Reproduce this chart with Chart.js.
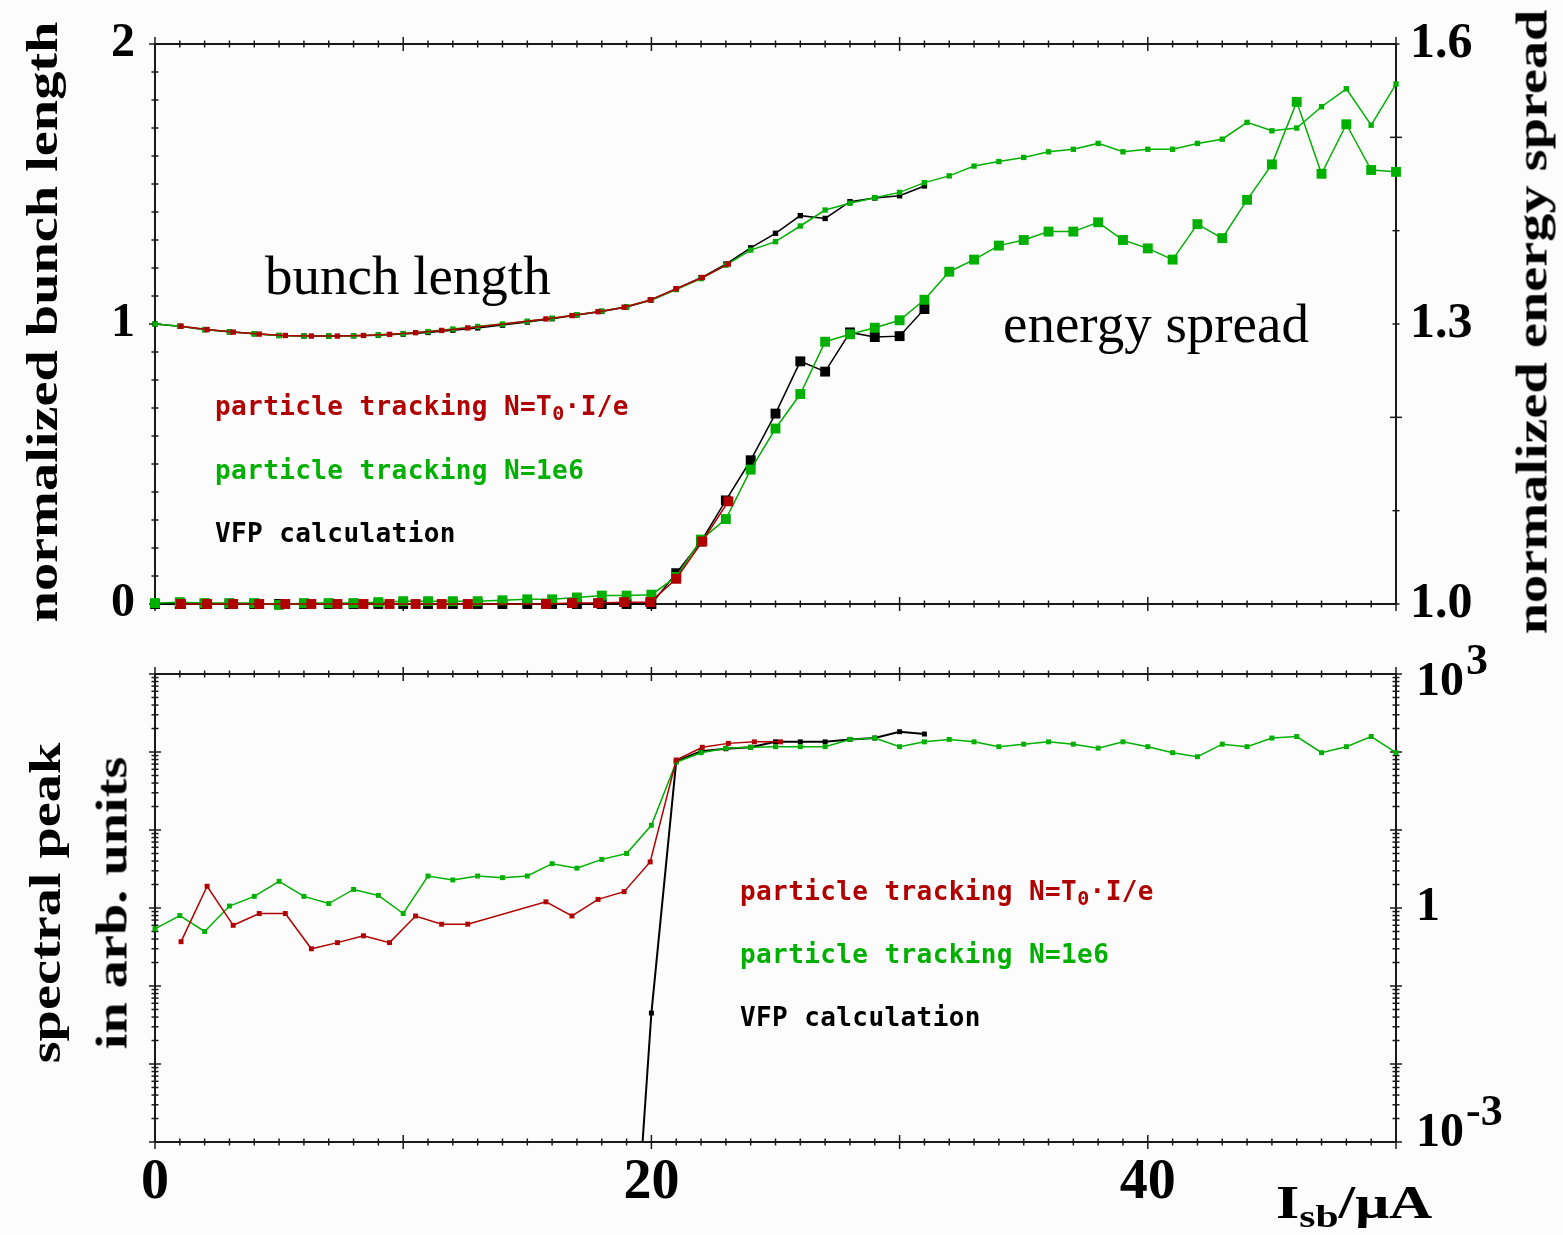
<!DOCTYPE html>
<html>
<head>
<meta charset="utf-8">
<script src="https://cdn.jsdelivr.net/npm/chart.js@4.4.1/dist/chart.umd.min.js"></script>
<style>
  body { margin: 0; background: #fcfcfc; width: 1563px; height: 1235px; position: relative; overflow: hidden; }
  canvas { position: absolute; left: 0; }
  #top { top: 0; }
  #bottom { top: 640px; }
  .t { position: absolute; white-space: nowrap; line-height: 1; color: #000; }
  .axis { font: bold 44px "Liberation Serif", "Times New Roman", serif; transform: translate(-50%, -50%) rotate(-90deg) scaleX(1.28); }
  .note { font: 55px "Liberation Serif", "Times New Roman", serif; }
  .key { font: bold 26px "DejaVu Sans Mono", monospace; letter-spacing: 0.4px; }
  .key sub { font-size: 20px; vertical-align: -5px; line-height: 1; }
  .unit { font: bold 46px "Liberation Serif", serif; transform: scaleX(1.3); transform-origin: left top; }
  .unit sub { font-size: 32px; vertical-align: -9px; line-height: 1; }
</style>
</head>
<body>
<canvas id="top" width="1563" height="640"></canvas>
<canvas id="bottom" width="1563" height="595"></canvas>

<div class="t axis" style="left:42px; top:322px">normalized bunch length</div>
<div class="t axis" style="left:1532px; top:322px">normalized energy spread</div>
<div class="t axis" style="left:45px; top:903px">spectral peak</div>
<div class="t axis" style="left:112px; top:903px">in arb. units</div>

<div class="t note" style="left:265px; top:244px">bunch length</div>
<div class="t note" style="left:1003px; top:292px">energy spread</div>

<div class="t key" style="left:215px; top:391px; color:#b00000">particle tracking N=T<sub>0</sub>·I/e</div>
<div class="t key" style="left:215px; top:455px; color:#00b000">particle tracking N=1e6</div>
<div class="t key" style="left:215px; top:518px; color:#000">VFP calculation</div>

<div class="t key" style="left:740px; top:876px; color:#b00000">particle tracking N=T<sub>0</sub>·I/e</div>
<div class="t key" style="left:740px; top:939px; color:#00b000">particle tracking N=1e6</div>
<div class="t key" style="left:740px; top:1002px; color:#000">VFP calculation</div>

<div class="t unit" style="left:1276px; top:1176px">I<sub>sb</sub>/μA</div>

<script>
const red = '#b00000';
const green = '#00b000';
const black = '#000000';

// currents in µA
const currentUA = [0, 1, 2, 3, 4, 5, 6, 7, 8, 9, 10, 11, 12, 13, 14, 15, 16, 17, 18, 19, 20,
  21, 22, 23, 24, 25, 26, 27, 28, 29, 30, 31, 32, 33, 34, 35, 36, 37, 38, 39, 40,
  41, 42, 43, 44, 45, 46, 47, 48, 49, 50];
const trackingCurrentUA = [1.05, 2.1, 3.15, 4.2, 5.25, 6.3, 7.35, 8.4, 9.45, 10.5, 11.55, 12.6,
  15.75, 16.8, 17.85, 18.9, 19.95, 21, 22.05, 23.1, 24.15, 25.2];
const vfpCurrentUA = [0, 1, 2, 3, 4, 5, 6, 7, 8, 9, 10, 11, 12, 13, 14, 15, 16, 17, 18, 19, 20,
  21, 22, 23, 24, 25, 26, 27, 28, 29, 30, 31];
const vfpSpectrumCurrentUA = [19, 20, 21, 22, 23, 24, 25, 26, 27, 28, 29, 30, 31];

// particle tracking, N = 1e6
const bunchLengthN1e6 = [1.000, 0.992, 0.980, 0.972, 0.965, 0.959, 0.957, 0.957, 0.958, 0.961,
  0.966, 0.973, 0.982, 0.991, 1.000, 1.010, 1.021, 1.033, 1.046, 1.062,
  1.086, 1.123, 1.162, 1.210, 1.264, 1.294, 1.350, 1.407, 1.431, 1.451,
  1.470, 1.505, 1.529, 1.564, 1.580, 1.595, 1.615, 1.624, 1.645, 1.615,
  1.624, 1.624, 1.645, 1.660, 1.720, 1.690, 1.700, 1.776, 1.840, 1.710, 1.857];
const energySpreadN1e6 = [1.001, 1.002, 1.001, 1.001, 1.001, 0.999, 1.001, 1.001, 1.001, 1.002,
  1.003, 1.003, 1.003, 1.003, 1.004, 1.005, 1.005, 1.007, 1.009, 1.009,
  1.010, 1.029, 1.069, 1.091, 1.144, 1.188, 1.225, 1.281, 1.289, 1.296,
  1.304, 1.326, 1.356, 1.369, 1.384, 1.390, 1.399, 1.399, 1.409, 1.390,
  1.381, 1.369, 1.407, 1.392, 1.433, 1.471, 1.538, 1.461, 1.514, 1.465, 1.463];
const spectralPeakN1e6 = [0.54, 0.80, 0.50, 1.06, 1.41, 2.2, 1.41, 1.14, 1.73, 1.45,
  0.85, 2.57, 2.29, 2.57, 2.45, 2.57, 3.7, 3.24, 4.2, 5.0,
  11.5, 74, 98, 112, 115, 117, 117, 117, 145, 151,
  117, 135, 145, 135, 117, 126, 135, 126, 112, 135,
  117, 98, 87, 126, 117, 151, 158, 98, 117, 158, 98];

// particle tracking, N = T0·I/e
const bunchLengthNT0 = [0.992, 0.980, 0.971, 0.964, 0.959, 0.957, 0.957, 0.959, 0.963, 0.969,
  0.977, 0.986, 1.018, 1.030, 1.044, 1.060, 1.086, 1.126, 1.166, 1.214];
const energySpreadNT0 = [1.000, 1.000, 1.000, 1.000, 1.000, 1.000, 1.000, 1.000, 1.000, 1.000,
  1.000, 1.000, 1.000, 1.001, 1.001, 1.002, 1.002, 1.027, 1.067, 1.110];
const spectralPeakNT0 = [0.37, 1.9, 0.60, 0.85, 0.85, 0.30, 0.36, 0.44, 0.36, 0.79, 0.62, 0.62,
  1.2, 0.79, 1.29, 1.62, 3.9, 79, 115, 129, 135, 135];

// Vlasov-Fokker-Planck
const bunchLengthVFP = [1.000, 0.992, 0.980, 0.972, 0.965, 0.959, 0.957, 0.957, 0.958, 0.960,
  0.964, 0.970, 0.978, 0.986, 0.996, 1.007, 1.019, 1.032, 1.045, 1.061,
  1.086, 1.125, 1.165, 1.214, 1.272, 1.324, 1.387, 1.377, 1.437, 1.450, 1.458, 1.493];
const energySpreadVFP = [1.000, 1.000, 1.000, 1.000, 1.000, 1.000, 1.000, 1.000, 1.000, 1.000,
  1.000, 1.000, 1.000, 1.000, 1.000, 1.000, 1.000, 1.000, 1.000, 1.000,
  1.000, 1.033, 1.067, 1.111, 1.154, 1.204, 1.260, 1.249, 1.291, 1.286, 1.287, 1.316];
const spectralPeakVFP = [0.000001, 0.045, 76, 102, 110, 115, 135, 135, 135, 145, 151, 182, 170];

// axis labels
const currentTicks = [0, 20, 40];
const bunchTicks = [0, 1, 2];
const energyTicks = [1.0, 1.3, 1.6];
const spectrumTicks = [0.001, 1, 1000];
const spectrumTickText = [['10', '-3'], ['1', ''], ['10', '3']];

const serif = '"Liberation Serif", "Times New Roman", serif';

function pts(xs, ys) {
  return ys.map((y, i) => ({ x: xs[i], y: y }));
}

function series(label, color, xs, ys, axis, radius, extra) {
  return Object.assign({
    label: label,
    data: pts(xs, ys),
    yAxisID: axis,
    borderColor: color,
    backgroundColor: color,
    borderWidth: 1.5,
    pointStyle: 'rect',
    pointRadius: radius,
    pointBorderWidth: 0,
    pointBackgroundColor: color,
    clip: 8
  }, extra || {});
}

function tickValues(s, cfg) {
  const out = [];
  if (cfg.log) {
    for (let e = Math.round(Math.log10(s.min)); e < Math.round(Math.log10(s.max)); e++) {
      for (let d = 1; d < 10; d++) out.push([d * Math.pow(10, e), d === 1]);
    }
    out.push([s.max, true]);
  } else {
    const n = Math.round((s.max - s.min) / cfg.step);
    for (let i = 0; i <= n; i++) {
      const v = s.min + i * cfg.step;
      out.push([v, Math.abs(v / cfg.major - Math.round(v / cfg.major)) < 1e-6]);
    }
  }
  return out;
}

// frame box with little crossing tick marks on all four sides
const frameTicks = {
  id: 'frameTicks',
  beforeDatasetsDraw(chart, args, opts) {
    const { ctx, chartArea: a, scales } = chart;
    const seg = (x1, y1, x2, y2) => { ctx.beginPath(); ctx.moveTo(x1, y1); ctx.lineTo(x2, y2); ctx.stroke(); };
    ctx.save();
    ctx.strokeStyle = '#1a1a1a';
    ctx.lineWidth = 2;
    ctx.strokeRect(a.left, a.top, a.right - a.left, a.bottom - a.top);
    ctx.lineWidth = 1.5;
    const x = scales.x;
    for (let v = x.min; v <= x.max; v += 1) {
      const px = x.getPixelForValue(v);
      const h = v % 10 === 0 ? 7 : 3.5;
      seg(px, a.top - h, px, a.top + h);
      seg(px, a.bottom - h, px, a.bottom + h);
    }
    [['left', a.left], ['right', a.right]].forEach(([side, ex]) => {
      const cfg = opts[side];
      if (!cfg) return;
      const s = scales[cfg.scale];
      tickValues(s, cfg).forEach(([v, major]) => {
        const py = s.getPixelForValue(v);
        const w = major ? 6 : 3.5;
        seg(ex - w, py, ex + w, py);
      });
    });
    ctx.restore();
  }
};

// "10" with a raised exponent for the log axis
const logLabels = {
  id: 'logLabels',
  afterDraw(chart) {
    const s = chart.scales.ySpectrum;
    if (!s) return;
    const ctx = chart.ctx;
    ctx.save();
    ctx.fillStyle = '#000';
    ctx.textAlign = 'left';
    ctx.textBaseline = 'middle';
    spectrumTicks.forEach((v, i) => {
      let y = s.getPixelForValue(v);
      y = Math.min(Math.max(y, s.top + 9), s.bottom - 8);
      const [base, exp] = spectrumTickText[i];
      const x = s.left + 20;
      ctx.font = 'bold 48px ' + serif;
      ctx.fillText(base, x, y);
      if (exp) {
        const w = ctx.measureText(base).width;
        ctx.font = 'bold 44px ' + serif;
        ctx.fillText(exp, x + w + 2, y - 20);
      }
    });
    ctx.restore();
  }
};

const tickFont = { family: serif, weight: 'bold', size: 48 };

// fixed widths; the labels may hang over the plot edges without moving them
const fixWidth = width => s => {
  s.width = width;
  s.paddingTop = 0;
  s.paddingBottom = 0;
};

// fixed-size empty x boxes pin the plot area of the upper panel
const blankX = (position, height) => ({
  type: 'linear', position: position, min: 0, max: 50,
  afterFit: s => { s.height = height; },
  grid: { display: false, drawTicks: false },
  border: { display: false },
  ticks: { display: false }
});

new Chart(document.getElementById('top'), {
  type: 'line',
  data: {
    datasets: [
      series('bunch length, N=T0·I/e', red, trackingCurrentUA, bunchLengthNT0, 'yBunch', 3.8),
      series('energy spread, N=T0·I/e', red, trackingCurrentUA, energySpreadNT0, 'yEnergy', 7),
      series('bunch length, N=1e6', green, currentUA, bunchLengthN1e6, 'yBunch', 3.8),
      series('energy spread, N=1e6', green, currentUA, energySpreadN1e6, 'yEnergy', 7),
      series('bunch length, VFP', black, vfpCurrentUA, bunchLengthVFP, 'yBunch', 3.8),
      series('energy spread, VFP', black, vfpCurrentUA, energySpreadVFP, 'yEnergy', 7)
    ]
  },
  options: {
    responsive: false,
    animation: false,
    devicePixelRatio: 1,
    layout: { padding: 0 },
    plugins: {
      legend: { display: false },
      tooltip: { enabled: false },
      frameTicks: {
        left: { scale: 'yBunch', step: 0.1, major: 1 },
        right: { scale: 'yEnergy', step: 0.1, major: 0.3 }
      }
    },
    scales: {
      x: blankX('bottom', 36),
      xTop: blankX('top', 44),
      yBunch: {
        type: 'linear', position: 'left', min: 0, max: 2,
        afterFit: fixWidth(155),
        afterBuildTicks: s => { s.ticks = bunchTicks.map(v => ({ value: v })); },
        grid: { display: false, drawTicks: false },
        border: { display: false },
        ticks: { color: '#000', padding: 20, font: tickFont, callback: v => String(v) }
      },
      yEnergy: {
        type: 'linear', position: 'right', min: 1.0, max: 1.6,
        afterFit: fixWidth(167),
        afterBuildTicks: s => { s.ticks = energyTicks.map(v => ({ value: v })); },
        grid: { display: false, drawTicks: false },
        border: { display: false },
        ticks: { color: '#000', padding: 14, font: { family: serif, weight: 'bold', size: 50 }, callback: v => Number(v).toFixed(1) }
      }
    }
  },
  plugins: [frameTicks]
});

new Chart(document.getElementById('bottom'), {
  type: 'line',
  data: {
    datasets: [
      series('spectral peak, N=T0·I/e', red, trackingCurrentUA, spectralPeakNT0, 'ySpectrum', 3.5),
      series('spectral peak, N=1e6', green, currentUA, spectralPeakN1e6, 'ySpectrum', 3.5),
      series('spectral peak, VFP', black, vfpSpectrumCurrentUA, spectralPeakVFP, 'ySpectrum', 3.5,
        { borderWidth: 2, clip: { left: 8, top: 8, right: 8, bottom: 0 } })
    ]
  },
  options: {
    responsive: false,
    animation: false,
    devicePixelRatio: 1,
    layout: { padding: { top: 34, bottom: 0, left: 155, right: 0 } },
    plugins: {
      legend: { display: false },
      tooltip: { enabled: false },
      frameTicks: {
        left: { scale: 'ySpectrum', log: true },
        right: { scale: 'ySpectrum', log: true }
      }
    },
    scales: {
      x: {
        type: 'linear', min: 0, max: 50,
        afterFit: s => { s.height = 93; },
        afterBuildTicks: s => { s.ticks = currentTicks.map(v => ({ value: v })); },
        grid: { display: false, drawTicks: false },
        border: { display: false },
        ticks: { color: '#000', padding: 8, maxRotation: 0, autoSkip: false, font: { family: serif, weight: 'bold', size: 56 } }
      },
      ySpectrum: {
        type: 'logarithmic', position: 'right', min: 0.001, max: 1000,
        afterFit: fixWidth(167),
        afterBuildTicks: s => { s.ticks = spectrumTicks.map(v => ({ value: v })); },
        grid: { display: false, drawTicks: false },
        border: { display: false },
        ticks: { display: false }
      }
    }
  },
  plugins: [frameTicks, logLabels]
});
</script>
</body>
</html>
